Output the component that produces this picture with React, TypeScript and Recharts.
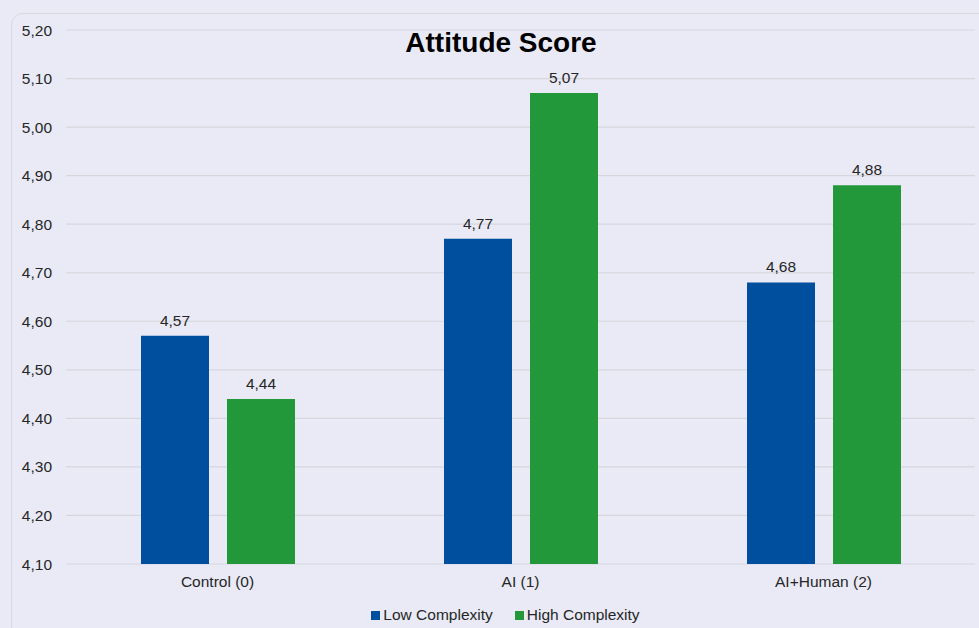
import { BarChart, Bar, XAxis, YAxis, CartesianGrid, Legend, LabelList } from "recharts";

const groups = ["Control (0)", "AI (1)", "AI+Human (2)"];
const lowComplexity = [4.57, 4.77, 4.68];
const highComplexity = [4.44, 5.07, 4.88];
const yTicks = [4.1, 4.2, 4.3, 4.4, 4.5, 4.6, 4.7, 4.8, 4.9, 5.0, 5.1, 5.2];

const BLUE = "#004F9E";
const GREEN = "#23983B";
const BG = "#E9EAF6";
const FONT = "'Liberation Sans', Arial, sans-serif";

const fmt = (v: number) => v.toFixed(2).replace(".", ",");

const chartData = groups.map((g, i) => ({
  group: g,
  low: lowComplexity[i],
  high: highComplexity[i],
}));

const legendItems = [
  { label: "Low Complexity", color: BLUE },
  { label: "High Complexity", color: GREEN },
];

function LegendRow() {
  return (
    <div
      style={{
        height: 30,
        display: "flex",
        justifyContent: "center",
        alignItems: "center",
        gap: 22,
        fontFamily: FONT,
        fontSize: 15.5,
        color: "#262626",
        paddingLeft: 26,
        paddingTop: 4,
        boxSizing: "border-box",
      }}
    >
      {legendItems.map((it) => (
        <div key={it.label} style={{ display: "flex", alignItems: "center", gap: 3 }}>
          <span style={{ width: 9, height: 9, background: it.color, display: "inline-block" }} />
          <span>{it.label}</span>
        </div>
      ))}
    </div>
  );
}

export default function App() {
  return (
    <div style={{ position: "fixed", left: 0, top: 0, width: 979, height: 628, background: BG, overflow: "hidden" }}>
      <div
        style={{
          position: "absolute",
          left: 11,
          top: 13,
          width: 1000,
          height: 700,
          border: "1.5px solid #D8D8DE",
          borderRadius: 12,
          boxSizing: "border-box",
        }}
      />
      <div
        style={{
          position: "absolute",
          left: 0,
          width: 1002,
          top: 27,
          textAlign: "center",
          fontFamily: FONT,
          fontWeight: 700,
          fontSize: 28,
          color: "#000",
          zIndex: 2,
        }}
      >
        Attitude Score
      </div>
      <div style={{ position: "absolute", left: 0, top: 0 }}>
        <BarChart
          width={979}
          height={628}
          data={chartData}
          margin={{ top: 30, right: 4, bottom: 0, left: 10 }}
          barSize={68}
          barGap={18}
        >
          <CartesianGrid vertical={false} stroke="#D6D6DC" strokeWidth={1.2} />
          <YAxis
            domain={[4.1, 5.2]}
            ticks={yTicks}
            allowDataOverflow
            width={56}
            axisLine={false}
            tickLine={false}
            tickSize={0}
            tickMargin={14}
            tickFormatter={fmt}
            tick={{ fill: "#262626", fontSize: 15.5, fontFamily: FONT }}
          />
          <XAxis
            dataKey="group"
            height={34}
            axisLine={false}
            tickLine={false}
            tickSize={0}
            tickMargin={12}
            tick={{ fill: "#262626", fontSize: 15.5, fontFamily: FONT }}
          />
          <Legend verticalAlign="bottom" height={30} content={() => <LegendRow />} />
          <Bar dataKey="low" name="Low Complexity" fill={BLUE} isAnimationActive={false}>
            <LabelList
              dataKey="low"
              position="top"
              offset={10}
              formatter={(v: number) => fmt(v)}
              style={{ fill: "#262626", fontSize: 15.5, fontFamily: FONT }}
            />
          </Bar>
          <Bar dataKey="high" name="High Complexity" fill={GREEN} isAnimationActive={false}>
            <LabelList
              dataKey="high"
              position="top"
              offset={10}
              formatter={(v: number) => fmt(v)}
              style={{ fill: "#262626", fontSize: 15.5, fontFamily: FONT }}
            />
          </Bar>
        </BarChart>
      </div>
    </div>
  );
}
